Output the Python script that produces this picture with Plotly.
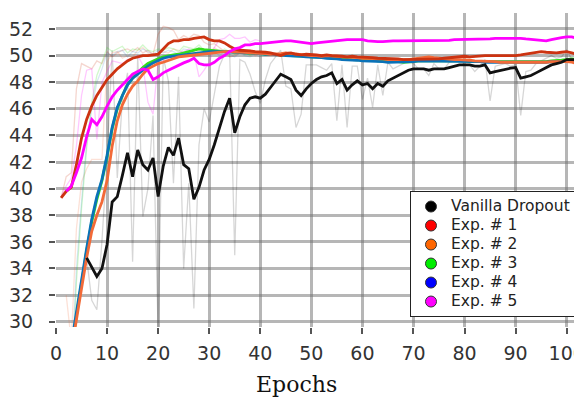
import plotly.graph_objects as go

# ---------------- data ----------------
x_ticks = [0, 10, 20, 30, 40, 50, 60, 70, 80, 90, 100]
x_tick_labels = ["0", "10", "20", "30", "40", "50", "60", "70", "80", "90", "100"]
y_ticks = [30, 32, 34, 36, 38, 40, 42, 44, 46, 48, 50, 52]
y_tick_labels = ["30", "32", "34", "36", "38", "40", "42", "44", "46", "48", "50", "52"]

series_names = ["Vanilla Dropout", "Exp. # 1", "Exp. # 2", "Exp. # 3", "Exp. # 4", "Exp. # 5"]

# Vanilla dropout, smoothed (epochs 6..102)
vanilla_start = 6
vanilla = [34.8, 34.1, 33.4, 34.0, 35.8, 39.0, 39.4, 41.0, 42.7, 40.9,
           42.9, 41.8, 41.4, 42.3, 39.4, 41.7, 43.1, 42.5, 43.8, 41.8,
           41.5, 39.2, 40.1, 41.4, 42.2, 43.3, 44.6, 45.8, 46.8, 44.2,
           45.4, 46.3, 46.8, 46.9, 46.8, 47.1, 47.6, 48.1, 48.6, 48.4,
           48.2, 47.4, 47.0, 47.5, 47.9, 48.2, 48.4, 48.5, 48.7, 47.9,
           48.2, 47.4, 47.8, 48.1, 47.8, 47.9, 47.5, 47.9, 47.7, 48.1,
           48.3, 48.5, 48.7, 48.9, 49.0, 49.0, 49.0, 48.9, 49.0, 49.0,
           49.0, 49.1, 49.2, 49.3, 49.3, 49.3, 49.2, 49.2, 49.3, 48.7,
           48.8, 48.9, 49.0, 49.05, 49.1, 48.3, 48.4, 48.5, 48.7, 48.9,
           49.1, 49.3, 49.4, 49.5, 49.7, 49.7, 49.7]
# Vanilla dropout, raw (epochs 6..102)
vanilla_raw = [34.8, 31.6, 30.9, 36.1, 42.2, 50.4, 40.8, 46.7, 48.7, 34.5,
               50.0, 37.9, 40.0, 45.5, 29.1, 49.9, 48.1, 40.4, 48.4, 34.0,
               40.4, 31.0, 43.3, 46.0, 45.0, 47.2, 49.2, 50.1, 50.4, 35.0,
               49.7, 49.5, 48.6, 47.3, 46.4, 48.2, 49.4, 49.9, 50.4, 47.7,
               47.5, 44.6, 45.6, 49.3, 49.3, 49.3, 49.1, 48.9, 49.4, 45.1,
               49.3, 44.6, 49.2, 49.2, 46.7, 48.3, 46.1, 49.3, 47.0, 49.5,
               49.0, 49.2, 49.4, 49.6, 49.4, 49.0, 49.0, 48.5, 49.4, 49.0,
               49.0, 49.5, 49.6, 49.7, 49.3, 49.3, 48.8, 49.2, 49.7, 46.6,
               49.2, 49.3, 49.4, 49.2, 49.3, 45.5, 48.8, 48.9, 49.4, 49.6,
               49.8, 50.0, 49.8, 49.9, 50.4, 49.7, 49.7]

# Exp 1 (epochs 1..102)
exp1_start = 1
exp1 = [39.3, 39.8, 40.1, 41.8, 43.8, 45.2, 46.2, 47.0, 47.6, 48.2,
        48.6, 49.0, 49.3, 49.6, 49.8, 49.9, 50.0, 50.0, 50.05, 50.1,
        50.5, 50.9, 51.1, 51.1, 51.2, 51.2, 51.3, 51.35, 51.4, 51.2,
        51.1, 51.1, 50.95, 50.7, 50.5, 50.4, 50.4, 50.35, 50.3, 50.3,
        50.25, 50.2, 50.1, 50.0, 50.15, 50.2, 50.1, 50.05, 50.1, 50.1,
        50.05, 50.0, 50.05, 50.0, 50.0, 49.95, 49.9, 49.95, 49.9, 49.9,
        49.85, 49.85, 49.8, 49.8, 49.8, 49.75, 49.75, 49.7, 49.7, 49.7,
        49.75, 49.7, 49.7, 49.75, 49.75, 49.8, 49.85, 49.9, 49.95, 49.95,
        49.9, 49.95, 50.0, 50.0, 50.0, 50.0, 49.95, 50.0, 50.0, 50.0,
        50.05, 50.1, 50.2, 50.25, 50.3, 50.25, 50.2, 50.2, 50.25, 50.3,
        50.2, 50.1]
exp1_raw = [39.3, 40.9, 41.2, 47.5, 49.4, 49.2, 49.0, 49.6, 49.4, 50.3,
            49.9, 50.2, 50.4, 50.5, 50.3, 50.6, 50.2, 50.4, 50.1, 51.6,
            52.2, 52.1, 51.9, 51.2, 51.5, 51.3, 51.6, 51.5, 51.0, 50.8,
            50.9, 50.6, 50.3, 49.9, 50.0, 50.2, 50.1, 50.4, 50.0, 50.2]

# Exp 2 (epochs 3..102)
exp2_start = 3
exp2 = [27.8, 30.3, 32.5, 34.8, 36.8, 38.0, 39.0, 40.6, 43.2, 45.1,
        46.3, 47.1, 47.7, 48.1, 48.6, 49.0, 49.2, 49.4, 49.5, 49.65,
        49.8, 49.9, 49.95, 50.0, 50.05, 50.1, 50.15, 50.2, 50.25, 50.25,
        50.3, 50.3, 50.3, 50.25, 50.25, 50.2, 50.2, 50.2, 50.15, 50.1,
        50.1, 50.15, 50.2, 50.15, 50.1, 50.05, 50.0, 50.0, 50.0, 49.95,
        50.0, 50.0, 49.95, 49.9, 49.9, 49.85, 49.85, 49.8, 49.8, 49.8,
        49.75, 49.75, 49.7, 49.7, 49.7, 49.65, 49.7, 49.75, 49.8, 49.85,
        49.9, 49.85, 49.8, 49.75, 49.75, 49.7, 49.7, 49.7, 49.65, 49.6,
        49.6, 49.55, 49.55, 49.55, 49.5, 49.5, 49.5, 49.45, 49.45, 49.5,
        49.5, 49.45, 49.5, 49.5, 49.55, 49.55, 49.6, 49.55, 49.5, 49.4]
exp2_raw_start = 2
exp2_raw = [32.0, 28.5, 37.0, 40.5, 41.5, 42.2, 42.2, 42.2, 49.5, 50.2,
            50.3, 49.8, 50.0, 49.9, 50.4, 50.6, 50.2, 50.0, 50.1, 50.3,
            50.2, 50.5, 50.4, 50.2, 50.3, 50.1, 50.4, 50.5, 50.2, 50.6,
            50.3, 50.2, 50.4, 50.1, 50.2, 50.3, 50.0, 50.2, 50.1]

# Exp 3 (epochs 3..102)
exp3_start = 3
exp3 = [28.0, 30.5, 33.0, 35.3, 37.5, 39.2, 40.6, 42.4, 44.5, 46.0,
        47.0, 47.8, 48.3, 48.7, 49.1, 49.4, 49.6, 49.75, 49.9, 50.0,
        50.05, 50.1, 50.2, 50.3, 50.45, 50.5, 50.45, 50.4, 50.35, 50.35,
        50.3, 50.3, 50.3, 50.25, 50.2, 50.2, 50.2, 50.15, 50.1, 50.1,
        50.1, 50.05, 50.05, 50.0, 50.0, 49.95, 49.95, 49.9, 49.9, 49.85,
        49.85, 49.8, 49.8, 49.75, 49.75, 49.7, 49.7, 49.7, 49.65, 49.65,
        49.6, 49.6, 49.55, 49.55, 49.55, 49.5, 49.5, 49.55, 49.6, 49.6,
        49.6, 49.65, 49.65, 49.6, 49.6, 49.6, 49.6, 49.6, 49.55, 49.55,
        49.55, 49.55, 49.5, 49.5, 49.5, 49.5, 49.5, 49.5, 49.5, 49.5,
        49.5, 49.5, 49.55, 49.55, 49.6, 49.6, 49.65, 49.7, 49.75, 49.7]
exp3_raw = [25.0, 33.0, 38.5, 43.0, 46.5, 48.5, 49.5, 50.6, 50.3, 50.5,
            50.7, 50.2, 50.5, 50.4, 50.8, 50.4, 50.3, 50.5, 50.4, 50.6,
            50.5, 50.3, 50.7, 50.6, 50.5, 50.8, 50.4, 50.3, 50.4, 50.2,
            50.5, 50.3, 50.1, 50.4, 50.2, 50.0, 50.3, 50.1]

# Exp 4 (epochs 3..102)
exp4_start = 3
exp4 = [28.3, 30.8, 33.2, 35.5, 37.7, 39.4, 40.7, 42.5, 44.6, 46.1,
        47.0, 47.8, 48.3, 48.6, 48.95, 49.2, 49.45, 49.65, 49.8, 49.9,
        49.95, 50.0, 50.05, 50.1, 50.2, 50.25, 50.3, 50.3, 50.3, 50.3,
        50.3, 50.3, 50.3, 50.25, 50.2, 50.2, 50.2, 50.15, 50.1, 50.1,
        50.05, 50.05, 50.0, 50.0, 49.95, 49.95, 49.9, 49.9, 49.85, 49.85,
        49.8, 49.8, 49.75, 49.7, 49.7, 49.65, 49.65, 49.6, 49.6, 49.6,
        49.55, 49.55, 49.5, 49.5, 49.5, 49.5, 49.5, 49.55, 49.6, 49.6,
        49.6, 49.6, 49.6, 49.6, 49.6, 49.6, 49.6, 49.6, 49.55, 49.55,
        49.55, 49.5, 49.5, 49.5, 49.45, 49.45, 49.45, 49.45, 49.45, 49.45,
        49.45, 49.5, 49.5, 49.5, 49.55, 49.55, 49.6, 49.6, 49.6, 49.55]
exp4_raw = [26.0, 34.0, 39.0, 43.5, 46.0, 48.0, 49.0, 50.2, 50.0, 50.3,
            50.4, 49.9, 50.3, 50.2, 50.5, 50.3, 50.1, 50.4, 50.2, 50.4,
            50.3, 50.1, 50.5, 50.4, 50.3, 50.6, 50.2, 50.2, 50.3, 50.0,
            50.3, 50.1, 49.9, 50.2, 50.0, 49.9, 50.1, 49.9]

# Exp 5 (epochs 2..102)
exp5_start = 2
exp5 = [39.8, 40.2, 41.2, 42.3, 43.9, 45.2, 44.8, 45.4, 46.2, 46.9,
        47.4, 47.8, 48.2, 48.6, 48.8, 49.0, 48.9, 48.2, 48.4, 48.7,
        48.9, 49.1, 49.3, 49.45, 49.6, 49.8, 49.4, 49.3, 49.3, 49.5,
        49.8, 50.0, 50.3, 50.5, 50.6, 50.8, 50.8, 50.9, 50.9, 50.95,
        51.0, 51.05, 51.1, 51.1, 51.1, 51.05, 51.0, 50.95, 50.9, 50.95,
        51.0, 51.05, 51.05, 51.1, 51.15, 51.2, 51.2, 51.2, 51.2, 51.1,
        51.05, 51.05, 51.05, 51.1, 51.1, 51.1, 51.1, 51.1, 51.1, 51.1,
        51.1, 51.15, 51.1, 51.1, 51.1, 51.15, 51.2, 51.2, 51.2, 51.2,
        51.2, 51.2, 51.2, 51.25, 51.3, 51.3, 51.3, 51.35, 51.3, 51.3,
        51.25, 51.2, 51.15, 51.1, 51.1, 51.2, 51.3, 51.35, 51.4, 51.4,
        51.3]
exp5_raw_start = 1
exp5_raw = [39.4, 40.2, 40.8, 43.2, 47.0, 48.9, 49.0, 43.7, 48.0, 48.8,
            49.6, 49.5, 49.4, 49.7, 49.8, 50.0, 49.3, 46.5, 45.6, 49.5,
            49.6, 49.8, 50.0, 50.2, 50.3, 50.5, 50.2, 48.4, 48.9, 49.5,
            50.6, 51.2, 51.3, 51.6, 51.3, 51.3, 51.4, 51.0, 51.2, 51.1]

# ---------------- styles ----------------
line_colors = ["#111111", "#cc3311", "#f26a38", "#33dd1a", "#0a72b8", "#ff00ff"]
raw_colors = ["rgba(0,0,0,0.16)", "rgba(204,51,17,0.2)", "rgba(242,106,56,0.2)",
              "rgba(51,221,26,0.22)", "rgba(10,114,184,0.16)", "rgba(255,0,255,0.22)"]
legend_colors = ["#000000", "#ff0000", "#ff6600", "#00ee00", "#0000ff", "#ff00ff"]


def epochs(start, values):
    return list(range(start, start + len(values)))


fig = go.Figure()

raw_sets = [
    (vanilla_start, vanilla_raw, 0),
    (exp1_start, exp1_raw, 1),
    (exp2_raw_start, exp2_raw, 2),
    (exp3_start, exp3_raw, 3),
    (exp4_start, exp4_raw, 4),
    (exp5_raw_start, exp5_raw, 5),
]
for start, vals, i in raw_sets:
    fig.add_trace(go.Scatter(x=epochs(start, vals), y=vals, mode="lines",
                             line=dict(color=raw_colors[i], width=1.3),
                             showlegend=False, hoverinfo="skip"))

thick_sets = [
    (exp3_start, exp3, 3),
    (exp4_start, exp4, 4),
    (exp2_start, exp2, 2),
    (exp1_start, exp1, 1),
    (exp5_start, exp5, 5),
    (vanilla_start, vanilla, 0),
]
for start, vals, i in thick_sets:
    fig.add_trace(go.Scatter(x=epochs(start, vals), y=vals, mode="lines",
                             line=dict(color=line_colors[i], width=2.8),
                             name=series_names[i], showlegend=False))

# legend entries (circle markers as in the reference)
for i, name in enumerate(series_names):
    fig.add_trace(go.Scatter(x=[None], y=[None], mode="markers",
                             name='<span style="font-size:15.5px">' + name + '</span>',
                             marker=dict(symbol="circle", size=11, color=legend_colors[i],
                                         line=dict(color="#333333", width=1))))

grid_color = "rgba(110,110,110,0.5)"
tick_font = dict(family="DejaVu Sans", size=19, color="#333333")

# The page body has an 8px default margin, so the figure is sized/offset to
# land the plot area where the reference has it in the 582x402 window.
fig.update_layout(
    width=574, height=394,
    margin=dict(l=48, r=0, t=5, b=75, autoexpand=False),
    paper_bgcolor="white", plot_bgcolor="white",
    showlegend=True,
    legend=dict(x=0.673, y=0.433, xanchor="left", yanchor="top",
                bgcolor="white", bordercolor="#222222", borderwidth=1,
                font=dict(family="DejaVu Sans", size=12, color="#222222"),
                tracegroupgap=0, itemwidth=30),
    xaxis=dict(range=[0, 103], tickmode="array", tickvals=x_ticks, ticktext=x_tick_labels,
               showgrid=True, gridcolor=grid_color, gridwidth=2.5,
               zeroline=False, showline=False, automargin=False,
               ticklabeloverflow="allow",
               ticks="outside", ticklen=6, tickwidth=1.5, tickcolor="#555555",
               tickfont=tick_font, ticklabelstandoff=3),
    yaxis=dict(range=[29.6, 53.2], tickmode="array", tickvals=y_ticks, ticktext=y_tick_labels,
               showgrid=True, gridcolor=grid_color, gridwidth=2.5,
               zeroline=False, showline=False, automargin=False,
               ticklabeloverflow="allow",
               ticks="outside", ticklen=6, tickwidth=1.5, tickcolor="#555555",
               tickfont=tick_font, ticklabelstandoff=12),
    annotations=[dict(text="Epochs", xref="paper", yref="paper", x=0.457, y=-0.182,
                      xanchor="center", yanchor="middle", showarrow=False,
                      font=dict(family="DejaVu Serif", size=22, color="#111111"))],
)

fig.write_html("out.html")
